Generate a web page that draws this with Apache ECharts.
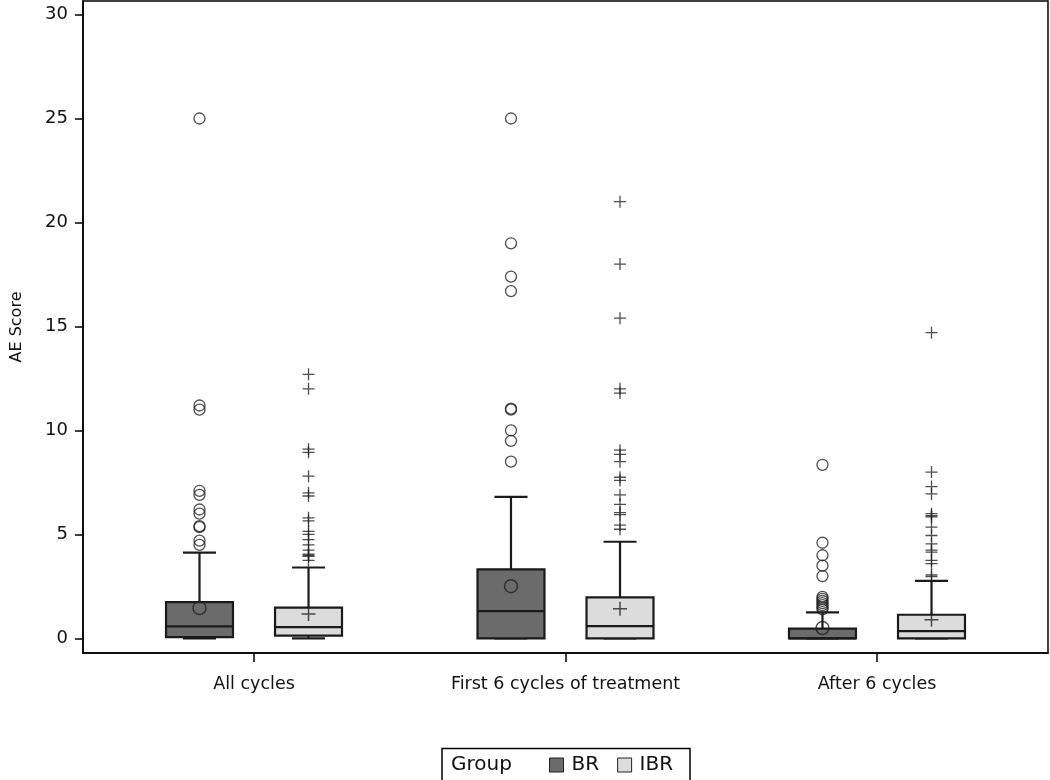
<!DOCTYPE html>
<html>
<head>
<meta charset="utf-8">
<script src="https://cdn.jsdelivr.net/npm/echarts@6/dist/echarts.min.js"></script>
<style>html,body{margin:0;padding:0;background:#fff}#c{width:1050px;height:780px}</style>
</head>
<body>
<div id="c"></div>
<script>
// ---- data ----
const categories = ['All cycles', 'First 6 cycles of treatment', 'After 6 cycles'];
const groups = ['BR', 'IBR'];
const yTicks = [0, 5, 10, 15, 20, 25, 30];
// [lower whisker, Q1, median, Q3, upper whisker]
const brStats = [[0, 0.06, 0.58, 1.75, 4.13], [0, 0, 1.31, 3.32, 6.81], [0, 0, 0, 0.47, 1.25]];
const ibrStats = [[0, 0.14, 0.54, 1.48, 3.41], [0, 0, 0.59, 1.97, 4.65], [0, 0, 0.35, 1.14, 2.77]];
const brMeans = [1.46, 2.51, 0.5];
const ibrMeans = [1.17, 1.43, 0.9];
const brOutliers = [
  [25, 11.2, 11.0, 7.1, 6.9, 6.2, 6.0, 5.4, 5.35, 4.7, 4.5],
  [25, 19, 17.4, 16.7, 11.05, 11.0, 10.0, 9.5, 8.5],
  [8.35, 4.6, 4.0, 3.5, 3.0, 2.0, 1.9, 1.8, 1.7, 1.6, 1.5, 1.4]
];
const ibrOutliers = [
  [12.7, 12.0, 9.1, 8.95, 7.8, 7.0, 6.85, 5.8, 5.65, 5.15, 5.0, 4.75, 4.5, 4.25, 4.05, 4.0, 3.95, 3.75],
  [21, 18, 15.4, 12.0, 11.8, 9.05, 8.85, 8.5, 7.75, 7.6, 6.9, 6.45, 6.05, 5.95, 5.45, 5.25],
  [14.7, 8.0, 7.3, 6.95, 6.0, 5.9, 5.85, 5.35, 4.95, 4.55, 4.25, 4.15, 3.75, 3.6, 3.05, 2.97]
];

// ---- layout / style ----
const FONT = 'DejaVu Sans';
const OFFSET = 0.175, BOXW = 0.215, CAPW = 0.106;
const colors = { BR: '#6b6b6b', IBR: '#dcdcdc' };
const stroke = '#1a1a1a';
const plusPath = 'path://M0,5L10,5M5,0L5,10';

function boxData(stats, off) {
  return stats.map((s, i) => [i + 1 + off].concat(s));
}
function pointData(list, off) {
  const out = [];
  list.forEach((vals, i) => vals.forEach(v => out.push([i + 1 + off, v])));
  return out;
}
function meanData(means, off) {
  return means.map((v, i) => [i + 1 + off, v]);
}

function renderBox(fill) {
  return function (params, api) {
    const x = api.value(0);
    const low = api.value(1), q1 = api.value(2), med = api.value(3), q3 = api.value(4), high = api.value(5);
    const hw = api.size([BOXW, 0])[0] / 2;
    const cw = api.size([CAPW, 0])[0] / 2;
    const pLow = api.coord([x, low]), pQ1 = api.coord([x, q1]), pMed = api.coord([x, med]);
    const pQ3 = api.coord([x, q3]), pHigh = api.coord([x, high]);
    const ls = { stroke: stroke, lineWidth: 2.2 };
    return {
      type: 'group',
      children: [
        { type: 'line', shape: { x1: pQ3[0], y1: pQ3[1], x2: pHigh[0], y2: pHigh[1] }, style: ls },
        { type: 'line', shape: { x1: pLow[0], y1: pLow[1], x2: pQ1[0], y2: pQ1[1] }, style: ls },
        { type: 'line', shape: { x1: pHigh[0] - cw, y1: pHigh[1], x2: pHigh[0] + cw, y2: pHigh[1] }, style: ls },
        { type: 'line', shape: { x1: pLow[0] - cw, y1: pLow[1], x2: pLow[0] + cw, y2: pLow[1] }, style: ls },
        { type: 'rect', shape: { x: pQ1[0] - hw, y: pQ3[1], width: hw * 2, height: Math.max(pQ1[1] - pQ3[1], 1) },
          style: { fill: fill, stroke: stroke, lineWidth: 2.2 } },
        { type: 'line', shape: { x1: pMed[0] - hw, y1: pMed[1], x2: pMed[0] + hw, y2: pMed[1] }, style: ls }
      ]
    };
  };
}

const series = [];
groups.forEach((g, gi) => {
  const off = gi === 0 ? -OFFSET : OFFSET;
  const stats = gi === 0 ? brStats : ibrStats;
  const means = gi === 0 ? brMeans : ibrMeans;
  const outs = gi === 0 ? brOutliers : ibrOutliers;
  series.push({
    name: g, type: 'custom', renderItem: renderBox(colors[g]),
    itemStyle: { color: colors[g] },
    encode: { x: 0, y: [1, 2, 3, 4, 5] },
    data: boxData(stats, off), z: 2, clip: false
  });
  const sym = gi === 0 ? 'circle' : plusPath;
  series.push({
    name: g + ' outliers', type: 'scatter', symbol: sym, symbolSize: gi === 0 ? 11 : 12,
    itemStyle: { color: 'rgba(0,0,0,0)', borderColor: '#222', borderWidth: 1.3 },
    data: pointData(outs, off), z: 4, silent: true
  });
  series.push({
    name: g + ' mean', type: 'scatter', symbol: sym, symbolSize: gi === 0 ? 13 : 14,
    itemStyle: { color: 'rgba(0,0,0,0)', borderColor: '#222', borderWidth: 1.5 },
    data: meanData(means, off), z: 5, silent: true
  });
});

const chart = echarts.init(document.getElementById('c'), null, { renderer: 'canvas' });
chart.setOption({
  animation: false,
  backgroundColor: '#fff',
  textStyle: { fontFamily: FONT },
  grid: { left: 83, right: 2, top: 1, bottom: 127, containLabel: false, outerBoundsMode: 'none',
    show: true, borderColor: '#000', borderWidth: 1.5, backgroundColor: 'transparent' },
  xAxis: {
    type: 'value', min: 0.451, max: 3.549,
    splitLine: { show: false },
    axisLine: { show: true, onZero: false, lineStyle: { color: '#000', width: 1.5 } },
    axisTick: { show: true, length: 9, lineStyle: { color: '#000', width: 1.5 }, customValues: [1, 2, 3] },
    axisLabel: { customValues: [1, 2, 3], formatter: v => categories[Math.round(v) - 1] || '',
      color: '#111', fontSize: 17.5, fontFamily: FONT, margin: 22 }
  },
  yAxis: {
    type: 'value', min: -0.70, max: 30.65,
    name: 'AE Score', nameLocation: 'middle', nameGap: 58, nameRotate: 90,
    nameTextStyle: { color: '#111', fontSize: 16, fontFamily: FONT },
    splitLine: { show: false },
    axisLine: { show: true, onZero: false, lineStyle: { color: '#000', width: 1.5 } },
    axisTick: { show: true, length: 8, lineStyle: { color: '#000', width: 1.5 }, customValues: yTicks },
    axisLabel: { customValues: yTicks, color: '#111', fontSize: 18, fontFamily: FONT, margin: 15 }
  },
  legend: {
    left: 549, top: 755, padding: 0, itemWidth: 14, itemHeight: 14, itemGap: 18,
    textStyle: { fontSize: 20, fontFamily: FONT, color: '#111', padding: [0, 0, 0, 3] },
    data: [
      { name: 'BR', icon: 'rect', itemStyle: { color: colors.BR, borderColor: '#222', borderWidth: 1 } },
      { name: 'IBR', icon: 'rect', itemStyle: { color: colors.IBR, borderColor: '#222', borderWidth: 1 } }
    ]
  },
  graphic: [
    { type: 'rect', shape: { x: 442, y: 748.5, width: 248, height: 40 }, style: { fill: 'none', stroke: '#000', lineWidth: 1.5 } },
    { type: 'text', x: 451, y: 765, style: { text: 'Group', font: '20px "DejaVu Sans"', fill: '#111', verticalAlign: 'middle' } }
  ],
  series: series
});
</script>
</body>
</html>
